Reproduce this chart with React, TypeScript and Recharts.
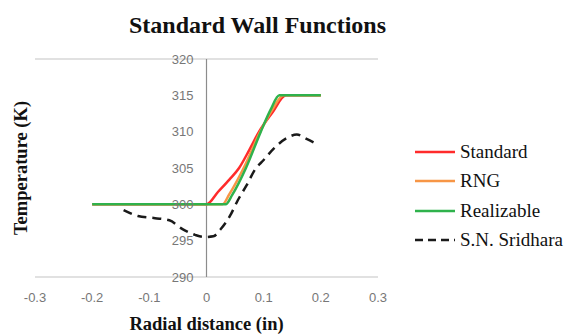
import React from 'react';
import {
  LineChart,
  Line,
  XAxis,
  YAxis,
  CartesianGrid,
  ReferenceLine,
  ReferenceDot,
  Legend,
} from 'recharts';

const xTicks = [-0.3, -0.2, -0.1, 0, 0.1, 0.2, 0.3];
const yTicks = [290, 295, 300, 305, 310, 315, 320];

const standardX = [-0.2, -0.1, 0, 0.02, 0.04, 0.057, 0.075, 0.092, 0.115, 0.139, 0.17, 0.2];
const standardT = [300, 300, 300, 301.7, 303.4, 305, 307.5, 310, 312.6, 315, 315, 315];

const rngX = [-0.2, -0.1, 0, 0.028, 0.04, 0.065, 0.094, 0.115, 0.135, 0.17, 0.2];
const rngT = [300, 300, 300, 300, 301.4, 305, 310, 313, 315, 315, 315];

const realizableX = [-0.2, -0.1, 0, 0.0335, 0.045, 0.069, 0.095, 0.112, 0.1275, 0.17, 0.2];
const realizableT = [300, 300, 300, 300, 301.3, 305, 310, 313, 315, 315, 315];

const sridharaX = [-0.145, -0.12, -0.09, -0.065, -0.042, -0.02, -0.004, 0.012, 0.025, 0.041, 0.055, 0.07, 0.085, 0.1, 0.118, 0.14, 0.158, 0.175, 0.195];
const sridharaT = [299.2, 298.4, 298.1, 297.8, 296.6, 295.8, 295.5, 295.6, 296.6, 298.4, 300.6, 302.6, 304.8, 306.1, 307.7, 309.1, 309.6, 309.0, 308.2];

const zip = (xs: number[], ys: number[]) => xs.map((x, i) => ({ x, y: ys[i] }));

const standardData = zip(standardX, standardT);
const rngData = zip(rngX, rngT);
const realizableData = zip(realizableX, realizableT);
const sridharaData = zip(sridharaX, sridharaT);

const legendItems = [
  { name: 'Standard', color: '#ff2b2b', dash: undefined as string | undefined },
  { name: 'RNG', color: '#f79646', dash: undefined },
  { name: 'Realizable', color: '#2fb24c', dash: undefined },
  { name: 'S.N. Sridhara', color: '#1a1a1a', dash: '8 5' },
];

const serif = '"Liberation Serif", "Times New Roman", serif';
const sans = '"Liberation Sans", Arial, sans-serif';

const renderLegend = () => (
  <div style={{ fontFamily: serif, fontSize: 19, color: '#111' }}>
    {legendItems.map((s) => (
      <div key={s.name} style={{ display: 'flex', alignItems: 'center', height: 29.5 }}>
        <svg width={42} height={10} style={{ display: 'block' }}>
          <line x1={0} y1={5} x2={40} y2={5} stroke={s.color} strokeWidth={2.5} strokeDasharray={s.dash} />
        </svg>
        <span style={{ marginLeft: 3, lineHeight: '20px' }}>{s.name}</span>
      </div>
    ))}
  </div>
);

export default function App() {
  return (
    <div style={{ position: 'relative', width: 568, height: 327 }}>
      <div
        style={{
          position: 'absolute',
          left: 249.5,
          top: 5,
          transform: 'translateX(-50%)',
          fontFamily: serif,
          fontWeight: 'bold',
          fontSize: 24,
          lineHeight: '24px',
          whiteSpace: 'nowrap',
          color: '#111',
        }}
      >
        Standard Wall Functions
      </div>
      <LineChart width={568} height={327} margin={{ top: 51, right: 198, left: 0, bottom: 0 }}>
        <CartesianGrid vertical={false} stroke="#c4c4c4" strokeWidth={1.2} />
        <XAxis
          type="number"
          dataKey="x"
          domain={[-0.3, 0.3]}
          ticks={xTicks}
          allowDataOverflow
          axisLine={false}
          tickLine={false}
          tickMargin={10}
          height={58}
          tick={{ fill: '#777', fontSize: 13, fontFamily: sans }}
          label={{
            value: 'Radial distance (in)',
            position: 'insideBottom',
            offset: 5,
            fill: '#111',
            fontSize: 18.5,
            fontWeight: 'bold',
            fontFamily: serif,
          }}
        />
        <YAxis
          type="number"
          dataKey="y"
          domain={[290, 320]}
          ticks={yTicks}
          width={27}
          tick={false}
          axisLine={false}
          tickLine={false}
          label={{
            value: 'Temperature (K)',
            angle: -90,
            position: 'center',
            dx: -1,
            fill: '#111',
            fontSize: 18.5,
            fontWeight: 'bold',
            fontFamily: serif,
          }}
        />
        <ReferenceLine x={0} stroke="#8c8c8c" strokeWidth={1.2} />
        {yTicks.map((t) => (
          <ReferenceDot
            key={t}
            x={0}
            y={t}
            r={0}
            stroke="none"
            fill="none"
            label={{
              value: String(t),
              position: 'left',
              offset: 13,
              fill: '#777',
              fontSize: 13,
              fontFamily: sans,
            }}
          />
        ))}
        <Line data={sridharaData} dataKey="y" name="S.N. Sridhara" type="monotone" stroke="#1a1a1a" strokeWidth={2.5} strokeDasharray="9 6" dot={false} isAnimationActive={false} />
        <Line data={standardData} dataKey="y" name="Standard" type="monotone" stroke="#ff2b2b" strokeWidth={2.5} dot={false} isAnimationActive={false} />
        <Line data={rngData} dataKey="y" name="RNG" type="monotone" stroke="#f79646" strokeWidth={2.5} dot={false} isAnimationActive={false} />
        <Line data={realizableData} dataKey="y" name="Realizable" type="monotone" stroke="#2fb24c" strokeWidth={2.5} dot={false} isAnimationActive={false} />
        <Legend
          layout="vertical"
          align="center"
          verticalAlign="middle"
          content={renderLegend}
          wrapperStyle={{ left: 407, top: 129, width: 160 }}
        />
      </LineChart>
    </div>
  );
}
